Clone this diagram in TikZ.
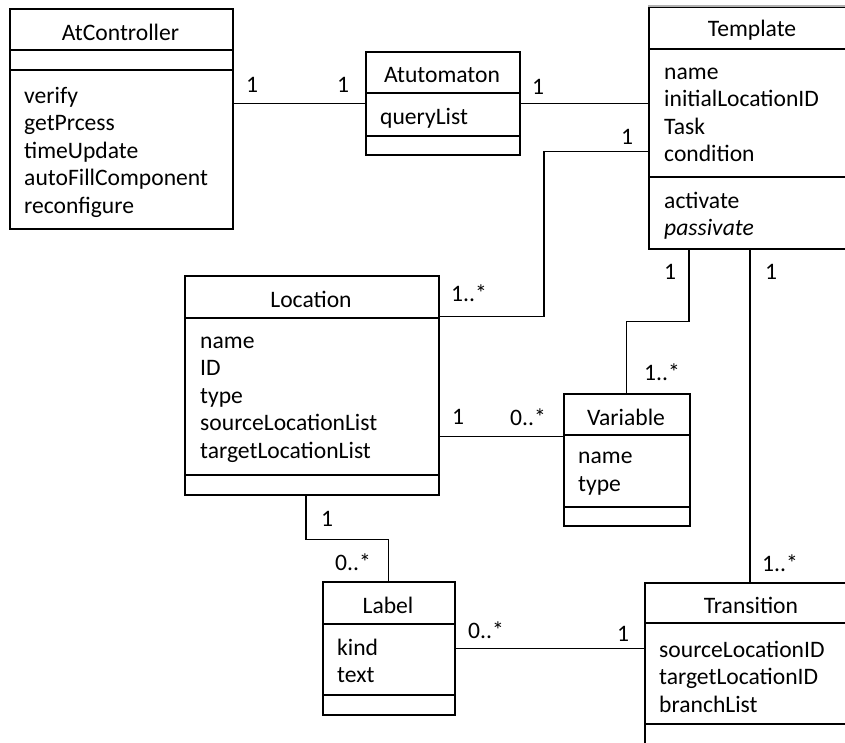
\documentclass[tikz,border=0pt]{standalone}
\usepackage{fontspec}
\setmainfont{Carlito}
\begin{document}
\begin{tikzpicture}[x=1pt,y=-1pt,
    every node/.append style={font=\fontsize{23.6}{27.5}\selectfont},
    box/.style={draw,line width=1.5pt,anchor=north west,inner sep=0pt},
    title/.style={inner sep=0pt,yshift=-3pt},
    attrs/.style={inner sep=0pt,anchor=west,align=left},
    mult/.style={inner sep=0pt}]
  \clip (0,0) rectangle (845,742);
  % class boxes
  \node[box,minimum width=223pt,minimum height=220pt] (ctrl) at (9,8) {};
  \node[box,minimum width=154pt,minimum height=103pt] (auto) at (365,51) {};
  \node[box,minimum width=220pt,minimum height=242pt] (tmpl) at (648,6) {};
  \node[box,minimum width=254pt,minimum height=219pt] (loc) at (184,275) {};
  \node[box,minimum width=126pt,minimum height=132pt] (var) at (563,393) {};
  \node[box,minimum width=132pt,minimum height=133pt] (lbl) at (322,581) {};
  \node[box,minimum width=220pt,minimum height=200pt] (trans) at (644,582) {};
  \draw[black!30,line width=1.5pt] (tmpl.north west) -- (tmpl.north east);
  % compartments
  \foreach \n/\a/\b in {ctrl/50/70,auto/93/136,tmpl/49/177,loc/318/475,
                        var/435/507,lbl/624/695,trans/623/724}
    \draw[line width=1.5pt] (\n.west |- 0,\a) -- (\n.east |- 0,\a)
                            (\n.west |- 0,\b) -- (\n.east |- 0,\b);
  % names
  \node[title] (ctrlt) at (120.5,29) {AtController};
  \node[title] (autot) at (442,72) {Atutomaton};
  \node[title] (tmplt) at (752,27.5) {Template};
  \node[title] (loct) at (311,296.5) {Location};
  \node[title] (vart) at (626,414) {Variable};
  \node[title] (lblt) at (388,602.5) {Label};
  \node[title] (transt) at (751,602.5) {Transition};
  % attributes and operations
  \node[attrs] (ctrlo) at (24,152) {verify\\getPrcess\\timeUpdate\\autoFillComponent\\reconfigure};
  \node[attrs] (autoa) at (380,118) {queryList};
  \node[attrs] (tmpla) at (664,115) {name\\initialLocationID\\Task\\condition};
  \node[attrs] (tmplo) at (664,215.5) {activate\\\textit{passivate}};
  \node[attrs] (loca) at (200,399.5) {name\\ID\\type\\sourceLocationList\\targetLocationList};
  \node[attrs] (vara) at (578,473.5) {name\\type};
  \node[attrs] (lbla) at (337,661) {kind\\text};
  \node[attrs] (transa) at (659,676.5) {sourceLocationID\\targetLocationID\\branchList};
  % associations
  \begin{scope}[line width=1.2pt]
    \coordinate (tl) at ([yshift=-24pt]tmpl.west);
    \coordinate (lt) at ([yshift=68.5pt]loc.east);
    \coordinate (tt) at ([xshift=102pt]tmpl.south west);
    \coordinate (vl) at ([yshift=23pt]var.west);
    \draw (ctrl.east |- auto.west) -- (auto.west);
    \draw (auto.east) -- (auto.east -| tmpl.west);
    \draw (tl) -- ++(-104,0) |- (lt);
    \draw ([xshift=41pt]tmpl.south west) -- ++(0,72) -| (var.north);
    \draw (tt) -- (tt |- trans.north);
    \draw (vl) -- (vl -| loc.east);
    \draw ([xshift=122pt]loc.south west) -- ++(0,44) -| (lbl.north);
    \draw (lbl.east) -- (lbl.east -| trans.west);
  \end{scope}
  % multiplicities
  \node[mult] (m1) at (252,85) {1};
  \node[mult] (m2) at (343,85) {1};
  \node[mult] (m3) at (538,87) {1};
  \node[mult] (m4) at (627,137) {1};
  \node[mult] (m5) at (469,293) {1..*};
  \node[mult] (m6) at (670,272) {1};
  \node[mult] (m7) at (662,372) {1..*};
  \node[mult] (m8) at (771,272) {1};
  \node[mult] (m9) at (780,563) {1..*};
  \node[mult] (m10) at (458,417) {1};
  \node[mult] (m11) at (528,417) {0..*};
  \node[mult] (m12) at (327,519) {1};
  \node[mult] (m13) at (353,562) {0..*};
  \node[mult] (m14) at (486,630) {0..*};
  \node[mult] (m15) at (623,634) {1};
\end{tikzpicture}
\end{document}
